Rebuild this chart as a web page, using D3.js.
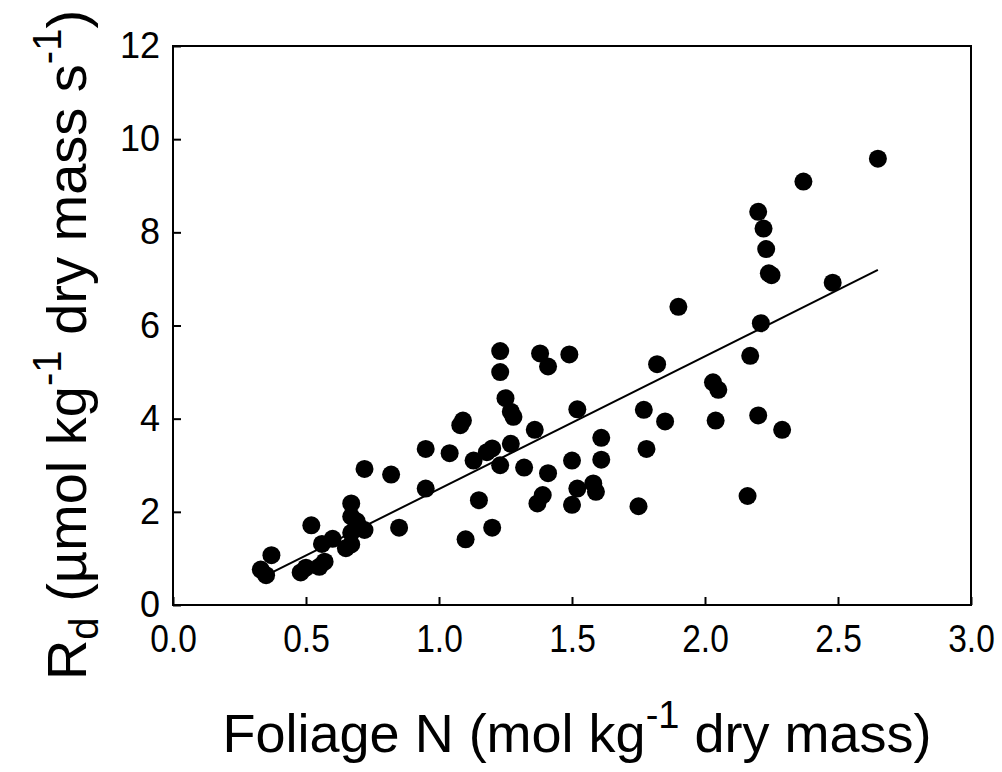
<!DOCTYPE html>
<html>
<head>
<meta charset="utf-8">
<script src="https://cdn.jsdelivr.net/npm/d3@7"></script>
<style>
  body { margin: 0; background: #fff; }
  text { font-family: "Liberation Sans", Arial, sans-serif; fill: #000; }
</style>
</head>
<body>
<div id="chart"></div>
<script>
// foliage N (mol/kg) and dark respiration Rd (umol/kg/s)
var foliageN = [0.33, 0.35, 0.37, 0.48, 0.50, 0.52, 0.55, 0.57, 0.56, 0.60,
  0.65, 0.67, 0.67, 0.67, 0.69, 0.72, 0.67, 0.70, 0.72, 0.82,
  0.85, 0.95, 0.95, 1.04, 1.08, 1.09, 1.10, 1.13, 1.15, 1.18,
  1.20, 1.20, 1.23, 1.23, 1.23, 1.25, 1.27, 1.28, 1.27, 1.32,
  1.36, 1.37, 1.39, 1.38, 1.41, 1.41, 1.49, 1.50, 1.50, 1.52,
  1.52, 1.58, 1.59, 1.61, 1.61, 1.75, 1.77, 1.78, 1.82, 1.85,
  1.90, 2.03, 2.05, 2.04, 2.16, 2.17, 2.20, 2.21, 2.20, 2.22,
  2.23, 2.24, 2.25, 2.29, 2.37, 2.48, 2.65];
var rd = [0.76, 0.64, 1.07, 0.70, 0.80, 1.71, 0.82, 0.93, 1.31, 1.42,
  1.22, 1.30, 2.18, 1.90, 1.80, 1.61, 1.55, 1.68, 2.92, 2.80,
  1.66, 2.50, 3.35, 3.26, 3.86, 3.96, 1.41, 3.10, 2.25, 3.28,
  3.36, 1.66, 5.45, 5.00, 3.00, 4.44, 4.15, 4.04, 3.46, 2.95,
  3.76, 2.18, 2.36, 5.40, 5.12, 2.83, 5.38, 3.10, 2.15, 4.20,
  2.50, 2.61, 2.43, 3.59, 3.12, 2.12, 4.19, 3.35, 5.17, 3.94,
  6.40, 4.78, 4.62, 3.96, 2.34, 5.35, 4.07, 6.05, 8.44, 8.08,
  7.64, 7.12, 7.08, 3.76, 9.09, 6.92, 9.58];

// fitted line
var fitRange = [0.35, 2.65];
var fitSlope = 2.85, fitIntercept = -0.36;

var xTicks = [0, 0.5, 1, 1.5, 2, 2.5, 3];
var yTicks = [0, 2, 4, 6, 8, 10, 12];

var margin = {top: 46, right: 31, bottom: 167, left: 173},
    width = 1002 - margin.left - margin.right,
    height = 772 - margin.top - margin.bottom;

var svg = d3.select("#chart")
  .append("svg")
  .attr("width", 1002)
  .attr("height", 772);

var g = svg.append("g")
  .attr("transform", "translate(" + margin.left + "," + margin.top + ")");

var x = d3.scaleLinear().domain([0, 3]).range([0, width]);
var y = d3.scaleLinear().domain([0, 12]).range([height, 0]);

// axes, ticks pointing inward
var xAxis = g.append("g")
  .attr("transform", "translate(0," + height + ")")
  .call(d3.axisBottom(x).tickValues(xTicks).tickSize(-8).tickPadding(19)
    .tickFormat(d3.format(".1f")));
var yAxis = g.append("g")
  .call(d3.axisLeft(y).tickValues(yTicks).tickSize(-8).tickPadding(13)
    .tickFormat(d3.format("d")));

[xAxis, yAxis].forEach(function(a) {
  a.select(".domain").remove();
  a.selectAll("line").attr("stroke", "#000").attr("stroke-width", 2);
  a.selectAll("text")
    .style("font-family", "'Liberation Sans', Arial, sans-serif");
});
xAxis.selectAll("text").style("font-size", "39px")
  .attr("transform", "scale(0.86,1)");
yAxis.selectAll("text").style("font-size", "36px");

// frame
g.append("rect")
  .attr("width", width)
  .attr("height", height)
  .attr("fill", "none")
  .attr("stroke", "#000")
  .attr("stroke-width", 2);

// points
g.selectAll("circle")
  .data(foliageN)
  .enter()
  .append("circle")
  .attr("cx", function(d) { return x(d); })
  .attr("cy", function(d, i) { return y(rd[i]); })
  .attr("r", 9)
  .attr("fill", "#000");

// regression line
g.append("line")
  .attr("x1", x(fitRange[0]))
  .attr("y1", y(fitIntercept + fitSlope * fitRange[0]))
  .attr("x2", x(fitRange[1]))
  .attr("y2", y(fitIntercept + fitSlope * fitRange[1]))
  .attr("stroke", "#000")
  .attr("stroke-width", 2);

// x title
var xt = svg.append("text")
  .attr("x", 577)
  .attr("y", 752)
  .attr("text-anchor", "middle")
  .style("font-size", "54px");
xt.append("tspan").text("Foliage N (mol kg");
xt.append("tspan").attr("dy", -24).style("font-size", "38px").text("-1");
xt.append("tspan").attr("dy", 24).text(" dry mass)");

// y title
var yt = svg.append("text")
  .attr("transform", "translate(86,345) rotate(-90)")
  .attr("text-anchor", "middle")
  .style("font-size", "56px");
yt.append("tspan").text("R");
yt.append("tspan").attr("dy", 12).style("font-size", "40px").text("d");
yt.append("tspan").attr("dy", -12).text(" (\u00b5mol kg");
yt.append("tspan").attr("dy", -25).style("font-size", "40px").text("-1");
yt.append("tspan").attr("dy", 25).text(" dry mass s");
yt.append("tspan").attr("dy", -25).style("font-size", "40px").text("-1");
yt.append("tspan").attr("dy", 25).text(")");
</script>
</body>
</html>
